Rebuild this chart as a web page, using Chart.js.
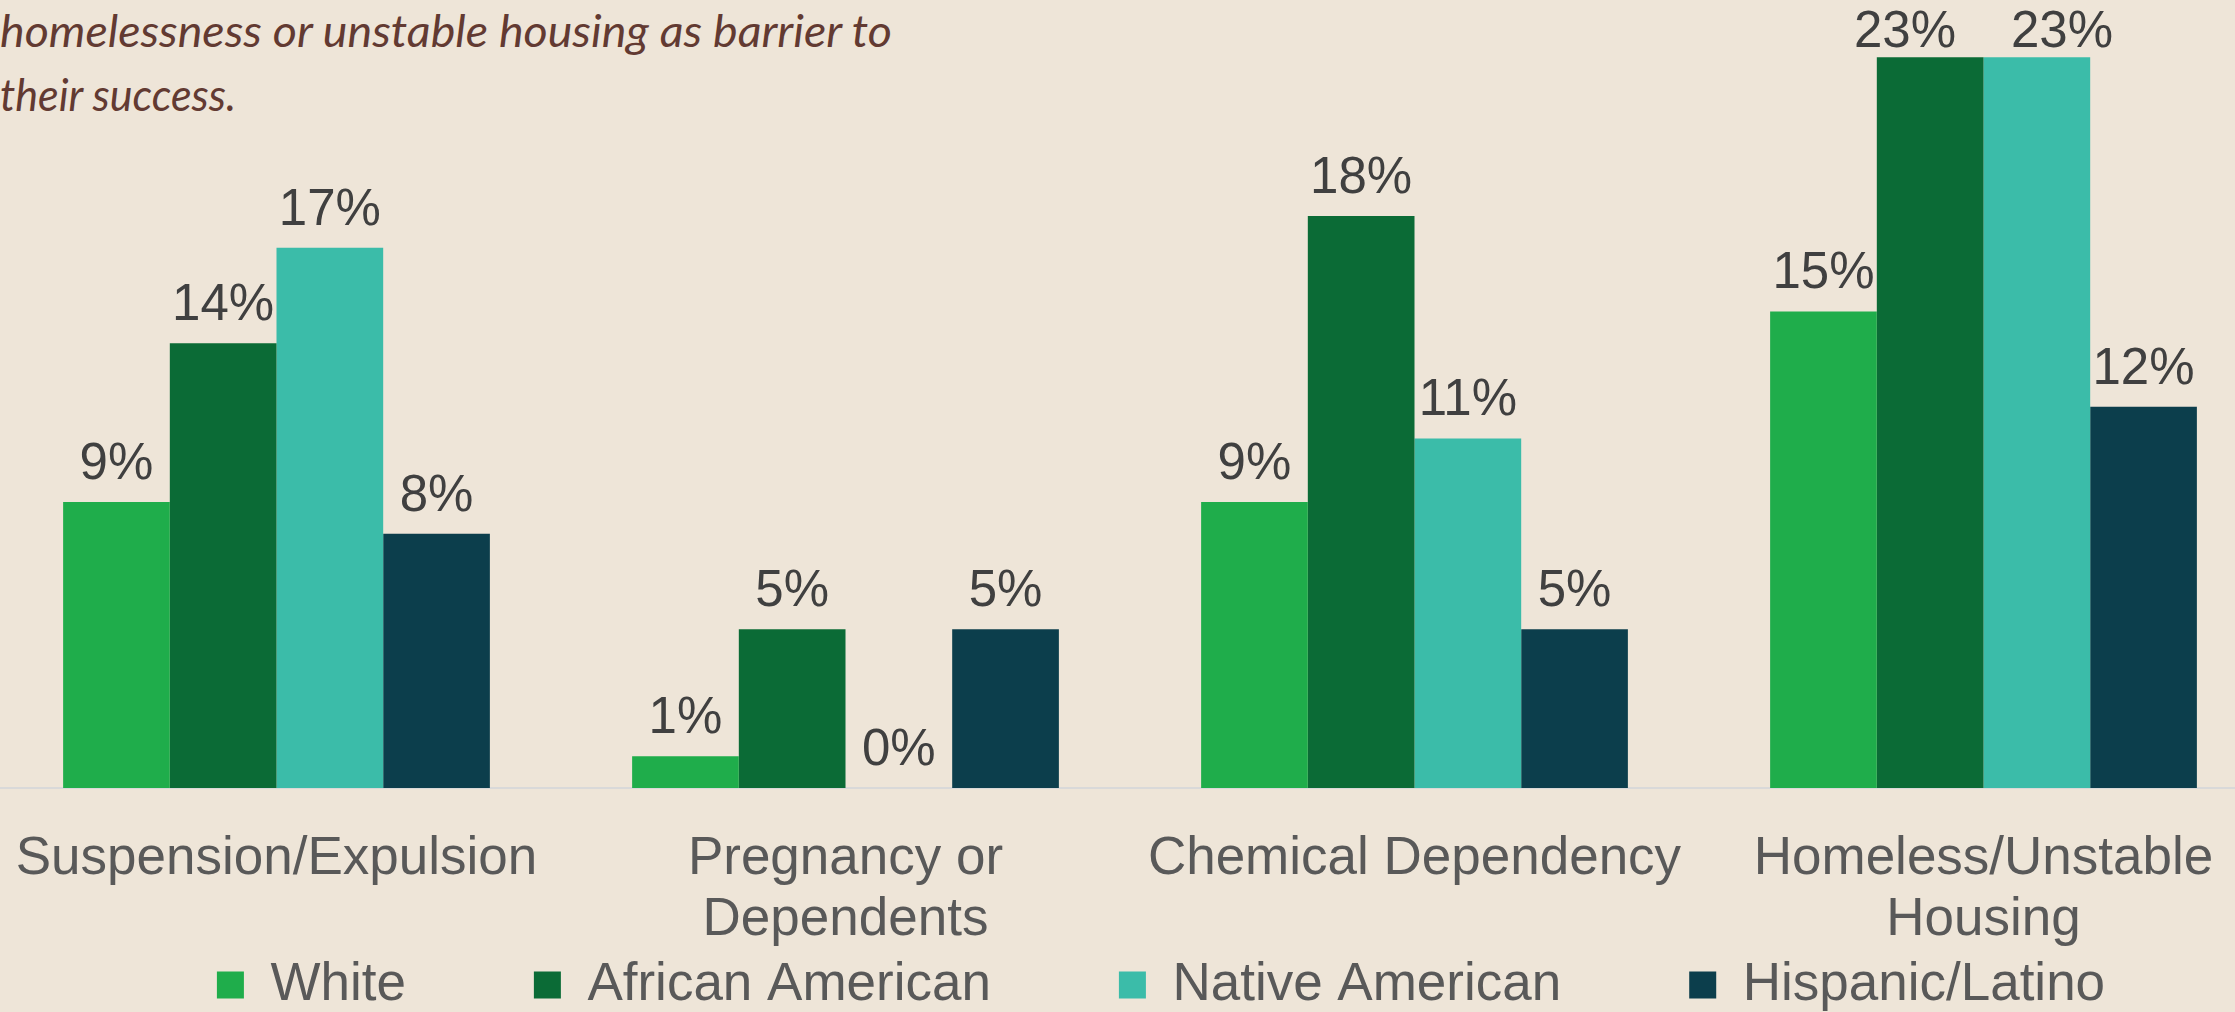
<!DOCTYPE html>
<html>
<head>
<meta charset="utf-8">
<script src="https://cdn.jsdelivr.net/npm/chart.js@4.4.1/dist/chart.umd.min.js"></script>
<style>
  html, body { margin: 0; padding: 0; width: 2235px; height: 1012px; overflow: hidden; background: #eee5d8; }
  .note { position: absolute; left: 0; font-family: Lato, "Open Sans", sans-serif; font-style: italic; font-size: 45px; line-height: 64px; color: #623a32; white-space: nowrap; transform-origin: 0 0; }
  #wrap { position: absolute; left: -8px; top: 0; width: 2338px; height: 1012px; }
</style>
</head>
<body>
<div class="note" id="note1" style="top:-2px">homelessness or unstable housing as barrier to</div>
<div class="note" id="note2" style="top:62px">their success.</div>
<div id="wrap"><canvas id="barriers-chart"></canvas></div>
<script>
// Data
const categories = [['Suspension/Expulsion'], ['Pregnancy or', 'Dependents'], ['Chemical Dependency'], ['Homeless/Unstable', 'Housing']];
const seriesNames = ['White', 'African American', 'Native American', 'Hispanic/Latino'];
const whiteVals = [9, 1, 9, 15];
const africanAmericanVals = [14, 5, 18, 23];
const nativeAmericanVals = [17, 0, 11, 23];
const hispanicVals = [8, 5, 5, 12];
const seriesColors = ['#1fad4b', '#0b6b36', '#3bbca9', '#0c3e4c'];

const FONT = '"Liberation Sans", Arial, sans-serif';

// squeeze the italic note lines so they span the same width as the original
function fitNote(id, width) {
  const el = document.getElementById(id);
  el.style.transform = 'scaleX(' + (width / el.getBoundingClientRect().width) + ')';
}
fitNote('note1', 892);
fitNote('note2', 236);

// Value labels on top of the bars (Excel style, nudged apart when they collide)
const valueLabels = {
  id: 'valueLabels',
  afterDatasetsDraw(chart) {
    const ctx = chart.ctx;
    const top = chart.chartArea.top;
    ctx.save();
    ctx.font = '51px ' + FONT;
    ctx.fillStyle = '#404040';
    ctx.textAlign = 'center';
    ctx.textBaseline = 'alphabetic';
    chart.data.labels.forEach((cat, j) => {
      const items = chart.data.datasets.map((ds, i) => {
        const bar = chart.getDatasetMeta(i).data[j];
        const text = ds.data[j] + '%';
        return { x: bar.x, y: Math.max(bar.y - 23, top + 47), w: ctx.measureText(text).width, text };
      });
      for (let i = 0; i < items.length - 1; i++) {
        const a = items[i], b = items[i + 1];
        if (Math.abs(a.y - b.y) < 36) {
          const gap = (b.x - b.w / 2) - (a.x + a.w / 2);
          if (gap < 55) { const push = (55 - gap) / 2; a.x -= push; b.x += push; }
        }
      }
      items.forEach(it => ctx.fillText(it.text, it.x, it.y));
    });
    ctx.restore();
  }
};

// the wide legend padding is only wanted sideways: lift the row back up under the axis labels
const legendRow = {
  id: 'legendRow',
  afterLayout(chart) {
    const lg = chart.legend;
    const labels = lg.options.labels;
    lg.top = 985 - labels.padding - labels.font.size / 2;
  }
};

const ctx = document.getElementById('barriers-chart').getContext('2d');
const barriersChart = new Chart(ctx, {
  type: 'bar',
  data: {
    labels: categories,
    datasets: [
      { label: seriesNames[0], data: whiteVals, backgroundColor: seriesColors[0] },
      { label: seriesNames[1], data: africanAmericanVals, backgroundColor: seriesColors[1] },
      { label: seriesNames[2], data: nativeAmericanVals, backgroundColor: seriesColors[2] },
      { label: seriesNames[3], data: hispanicVals, backgroundColor: seriesColors[3] }
    ]
  },
  options: {
    responsive: true,
    maintainAspectRatio: false,
    animation: false,
    devicePixelRatio: 1,
    layout: { padding: 0 },
    datasets: { bar: { categoryPercentage: 0.75, barPercentage: 1, borderWidth: 0 } },
    plugins: {
      legend: {
        position: 'bottom',
        maxHeight: 63,
        labels: { boxWidth: 27, boxHeight: 27, padding: 128, color: '#595959', font: { size: 53, family: FONT } }
      },
      tooltip: { enabled: false }
    },
    scales: {
      x: {
        grid: { display: false },
        border: { display: true, color: '#d9d9d9', width: 2 },
        ticks: { color: '#595959', font: { size: 53, family: FONT, lineHeight: 1.151 }, padding: 33, maxRotation: 0, minRotation: 0, autoSkip: false },
        afterFit: (s) => { s.height = 161; s.paddingLeft = 0; s.paddingRight = 0; }
      },
      y: {
        position: 'right',
        min: 0,
        max: 24.8,
        grid: { display: false },
        border: { display: false },
        ticks: { display: false },
        afterFit: (s) => { s.width = 62; }
      }
    }
  },
  plugins: [valueLabels, legendRow]
});
</script>
</body>
</html>
